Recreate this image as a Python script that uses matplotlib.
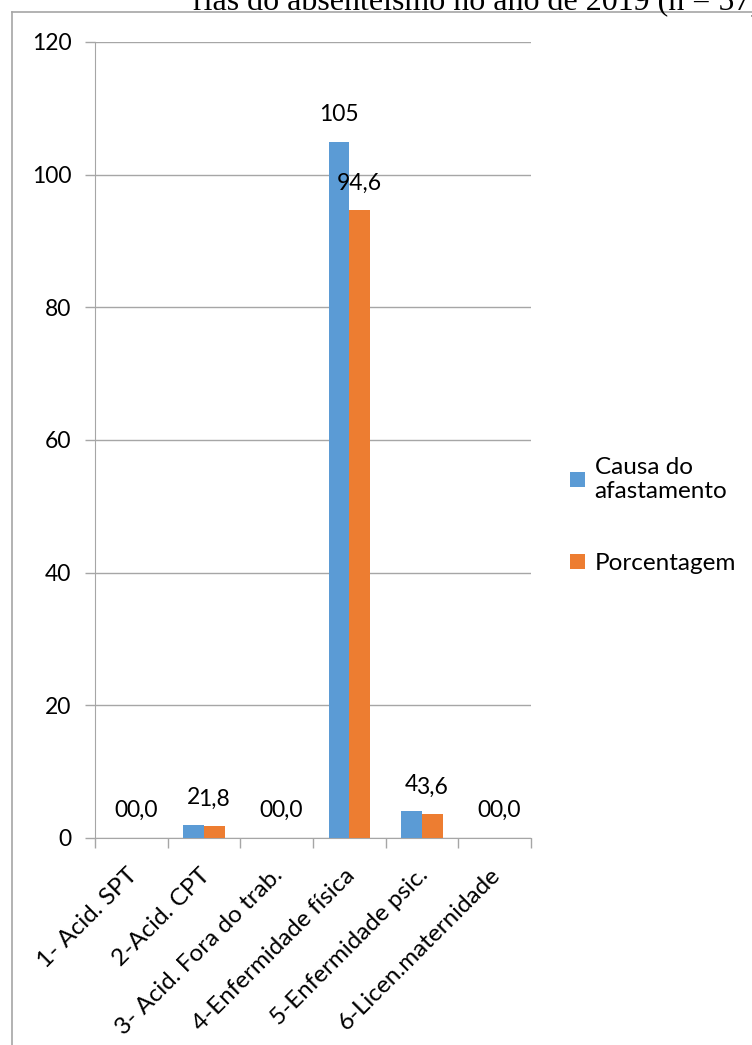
import numpy as np
import matplotlib
matplotlib.use("Agg")
import matplotlib.pyplot as plt
from matplotlib.lines import Line2D
from matplotlib.transforms import ScaledTranslation

# ── Data ──────────────────────────────────────────────────────────────────────
categories = ["1- Acid. SPT", "2-Acid. CPT", "3- Acid. Fora do trab.",
              "4-Enfermidade física", "5-Enfermidade psic.", "6-Licen.maternidade"]
causa = [0, 2, 0, 105, 4, 0]
porcentagem = [0.0, 1.8, 0.0, 94.6, 3.6, 0.0]
series_names = ["Causa do\nafastamento", "Porcentagem"]
title_text = "rias do absenteísmo no ano de 2019 (n = 57)"

BLUE = "#5B9BD5"
ORANGE = "#ED7D31"
GRID = "#a6a6a6"

plt.rcParams["font.family"] = ["Lato", "DejaVu Sans"]

W, H = 752, 1045
fig = plt.figure(figsize=(W / 100, H / 100), dpi=100)
ax = fig.add_axes([95 / W, 1 - 838 / H, (531 - 95) / W, (838 - 42) / H])

x = np.arange(len(categories))
width = 0.285
b1 = ax.bar(x - width / 2, causa, width, color=BLUE, label=series_names[0], zorder=3)
b2 = ax.bar(x + width / 2, porcentagem, width, color=ORANGE, label=series_names[1], zorder=3)

fs = 16.5      # numbers
fs_txt = 17.5  # words
ax.bar_label(b1, labels=[f"{v}" for v in causa], padding=12, fontsize=fs, color="black")
ax.bar_label(b2, labels=[f"{v:.1f}".replace(".", ",") for v in porcentagem],
             padding=12, fontsize=fs, color="black")

ax.set_xlim(-0.5, len(categories) - 0.5)
ax.set_ylim(0, 120)
ax.set_yticks(np.arange(0, 121, 20))
ax.yaxis.grid(True, color=GRID, linewidth=1, zorder=0)

ax.set_xticks(x)
ax.set_xticklabels(categories, rotation=45, ha="right", va="top",
                   rotation_mode="anchor", fontsize=fs_txt)
ax.set_xticks(np.arange(-0.5, len(categories)), minor=True)
ax.tick_params(axis="x", which="major", length=0, pad=19)
ax.tick_params(axis="x", which="minor", length=7, color=GRID, width=1)
ax.tick_params(axis="y", length=7, color=GRID, width=1, labelsize=fs, pad=10)
shift = ScaledTranslation(-5 / 100, 0, fig.dpi_scale_trans)
for lbl in ax.get_xticklabels():
    lbl.set_transform(lbl.get_transform() + shift)

for side in ["top", "right"]:
    ax.spines[side].set_visible(False)
for side in ["left", "bottom"]:
    ax.spines[side].set_color(GRID)

leg = ax.legend(loc="center left", bbox_to_anchor=(1.04, 0.405), frameon=False,
                fontsize=fs_txt, handlelength=0.6, handleheight=0.6,
                handletextpad=0.4, labelspacing=2.1)
for t in leg.get_texts():
    t.set_linespacing(1.15)

# document frame and title fragment (cropped page)
fig.add_artist(Line2D([12 / W, 1], [1 - 12 / H] * 2, color=GRID, lw=1.2))
fig.add_artist(Line2D([12 / W] * 2, [0, 1 - 12 / H], color=GRID, lw=1.2))
fig.text(193 / W, 1 - 10 / H, title_text, family="Liberation Serif",
         fontsize=23, va="baseline", ha="left")

fig.savefig("out.png", dpi=100)
